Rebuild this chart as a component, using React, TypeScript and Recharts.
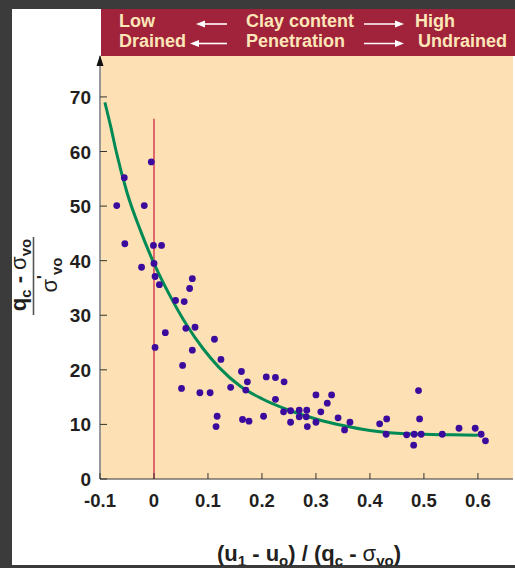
import React from 'react';
import { ScatterChart, Scatter, XAxis, YAxis, ReferenceLine } from 'recharts';

// measured points: (u1-uo)/(qc-svo) vs (qc-svo)/s'vo
const pointX = [
  -0.005, -0.055, -0.069, -0.018, -0.054, -0.001, 0.014, -0.023, 0.0, 0.002,
  0.01, 0.071, 0.066, 0.04, 0.056, 0.021, 0.059, 0.076, 0.112, 0.002,
  0.071, 0.124, 0.053, 0.051, 0.085, 0.104, 0.162, 0.173, 0.142, 0.17,
  0.208, 0.225, 0.241, 0.225, 0.117, 0.115, 0.164, 0.176, 0.203, 0.24,
  0.253, 0.269, 0.283, 0.253, 0.269, 0.282, 0.284, 0.3, 0.3, 0.309,
  0.321, 0.329, 0.341, 0.363, 0.353, 0.418, 0.431, 0.43, 0.468, 0.481,
  0.482, 0.495, 0.49, 0.492, 0.534, 0.565, 0.595, 0.606, 0.614,
];
const pointY = [
  58.1, 55.2, 50.1, 50.1, 43.1, 42.8, 42.8, 38.8, 39.5, 37.1,
  35.6, 36.7, 34.9, 32.7, 32.5, 26.8, 27.6, 27.8, 25.6, 24.1,
  23.6, 21.9, 20.8, 16.6, 15.8, 15.8, 19.7, 17.8, 16.8, 16.3,
  18.7, 18.6, 17.8, 14.6, 11.5, 9.6, 10.9, 10.6, 11.5, 12.3,
  12.5, 12.6, 12.6, 10.4, 11.4, 11.4, 9.6, 10.4, 15.4, 12.3,
  13.9, 15.4, 11.2, 10.4, 9.0, 10.1, 11.0, 8.2, 8.1, 6.2,
  8.2, 8.2, 16.2, 11.0, 8.2, 9.3, 9.3, 8.2, 7.0,
];

// trend curve
const curveX = [-0.091, -0.08, -0.07, -0.05, -0.025, 0, 0.03, 0.06, 0.09, 0.12, 0.16, 0.2, 0.25, 0.3, 0.35, 0.4, 0.45, 0.5, 0.55, 0.6];
const curveY = [69.0, 64.5, 60.0, 52.5, 45.5, 39.5, 33.5, 28.3, 24.0, 20.5, 17.0, 14.7, 12.6, 11.0, 9.8, 8.9, 8.4, 8.2, 8.1, 8.0];

const xTicks = [-0.1, 0, 0.1, 0.2, 0.3, 0.4, 0.5, 0.6];
const yTicks = [0, 10, 20, 30, 40, 50, 60, 70];

const points = pointX.map((x, i) => ({ x, y: pointY[i] }));
const curve = curveX.map((x, i) => ({ x, y: curveY[i] }));

const FONT = '"Liberation Sans", Arial, Helvetica, sans-serif';
const INK = '#231f20';
const CREAM = '#fde6b8';

const XTick = ({ x, y, payload }: any) => (
  <g>
    <line x1={x} x2={x} y1={y} y2={y - 6} stroke="#333" />
    <text x={x} y={y + 28} textAnchor="middle" fontSize={18.5} fontWeight="bold" fill={INK} fontFamily={FONT}>
      {payload.value === 0 ? '0' : String(payload.value)}
    </text>
  </g>
);

const YTick = ({ x, y, payload }: any) => (
  <g>
    <line x1={x} x2={x + 7} y1={y} y2={y} stroke="#333" />
    <text x={x - 9} y={y + 7} textAnchor="end" fontSize={19} fontWeight="bold" fill={INK} fontFamily={FONT}>
      {payload.value}
    </text>
  </g>
);

const Dot = (p: any) => <circle cx={p.cx} cy={p.cy} r={3.4} fill="#3b0b9e" />;

const Arrow = ({ x1, x2, y, head }: { x1: number; x2: number; y: number; head: 'l' | 'r' }) => {
  const hx = head === 'l' ? x1 : x2;
  const d = head === 'l' ? 9 : -9;
  return (
    <g>
      <line x1={head === 'l' ? x1 + 6 : x1} x2={head === 'r' ? x2 - 6 : x2} y1={y} y2={y} stroke="#fff" strokeWidth={1.6} />
      <polygon points={`${hx},${y} ${hx + d},${y - 3.5} ${hx + d},${y + 3.5}`} fill="#fff" />
    </g>
  );
};

export default function App() {
  return (
    <div style={{ position: 'absolute', left: 0, top: 0, width: 515, height: 568, background: '#3b3b3b', overflow: 'hidden', fontFamily: FONT }}>
      <div style={{ position: 'absolute', left: 12, top: 9, width: 503, height: 556, background: '#fff' }} />
      <div style={{ position: 'absolute', left: 101, top: 56, width: 412, height: 423, background: '#fde0b3' }} />
      <div style={{ position: 'absolute', left: 101, top: 9, width: 414, height: 47, background: '#a1233b' }} />

      <div style={{ position: 'absolute', left: 0, top: 0 }}>
        <ScatterChart width={515} height={568} margin={{ top: 56, right: 2, bottom: 59, left: 12 }}>
          <XAxis
            type="number"
            dataKey="x"
            domain={[-0.1, 0.665]}
            ticks={xTicks}
            interval={0}
            allowDataOverflow
            tick={XTick}
            tickLine={false}
            tickSize={0}
            tickMargin={0}
            height={30}
            axisLine={{ stroke: '#333' }}
          />
          <YAxis
            type="number"
            dataKey="y"
            domain={[0, 77.5]}
            ticks={yTicks}
            interval={0}
            allowDataOverflow
            tick={YTick}
            tickLine={false}
            tickSize={0}
            tickMargin={0}
            width={88}
            axisLine={{ stroke: '#333' }}
          />
          <ReferenceLine segment={[{ x: 0, y: 0 }, { x: 0, y: 66 }]} stroke="#c8193c" strokeWidth={1.2} />
          <Scatter
            data={curve}
            line={{ stroke: '#008a55', strokeWidth: 3 }}
            lineJointType="monotoneX"
            shape={() => <g />}
            isAnimationActive={false}
          />
          <Scatter data={points} shape={Dot} isAnimationActive={false} />
        </ScatterChart>
      </div>

      <svg width={515} height={568} style={{ position: 'absolute', left: 0, top: 0, pointerEvents: 'none' }} fontFamily={FONT}>
        {/* header band */}
        <g fill={CREAM} fontSize={18} fontWeight="bold">
          <text x={119} y={27}>Low</text>
          <text x={246} y={27}>Clay content</text>
          <text x={415} y={27}>High</text>
          <text x={119} y={47}>Drained</text>
          <text x={246} y={47}>Penetration</text>
          <text x={418} y={47}>Undrained</text>
        </g>
        <Arrow x1={196} x2={227} y={24} head="l" />
        <Arrow x1={364} x2={404} y={24} head="r" />
        <Arrow x1={190} x2={227} y={43.5} head="l" />
        <Arrow x1={364} x2={404} y={43.5} head="r" />

        {/* y axis arrow head */}
        <polygon points="100,55 96.5,66 103.5,66" fill="#111" />

        {/* y axis title as a fraction */}
        <g transform="translate(25.5,275) rotate(-90)">
          <text x={0} y={0} textAnchor="middle" fontSize={22} fontWeight="bold" fill={INK}>
            q<tspan fontSize={15} dy={5}>c</tspan>
            <tspan dy={-5}> - </tspan>
            <tspan fontWeight="normal">σ</tspan>
            <tspan fontSize={15} dy={5}>vo</tspan>
          </text>
        </g>
        <line x1={33.5} x2={33.5} y1={237} y2={315} stroke="#555" strokeWidth={1.6} />
        <g transform="translate(57,275) rotate(-90)">
          <text x={0} y={0} textAnchor="middle" fontSize={22} fontWeight="bold" fill={INK}>
            <tspan fontWeight="normal">σ</tspan>
            <tspan fontSize={16} dy={-8}>'</tspan>
            <tspan fontSize={15} dy={13}>vo</tspan>
          </text>
        </g>

        {/* x axis title */}
        <text x={309} y={561} textAnchor="middle" fontSize={22} fontWeight="bold" fill={INK}>
          (u<tspan fontSize={15} dy={5}>1</tspan>
          <tspan dy={-5}> - u</tspan>
          <tspan fontSize={15} dy={5}>o</tspan>
          <tspan dy={-5}>) / (q</tspan>
          <tspan fontSize={15} dy={5}>c</tspan>
          <tspan dy={-5}> - </tspan>
          <tspan fontWeight="normal">σ</tspan>
          <tspan fontSize={15} dy={5}>vo</tspan>
          <tspan dy={-5}>)</tspan>
        </text>

        <rect x={0} y={565.5} width={515} height={3} fill="#3b3b3b" />
      </svg>
    </div>
  );
}
